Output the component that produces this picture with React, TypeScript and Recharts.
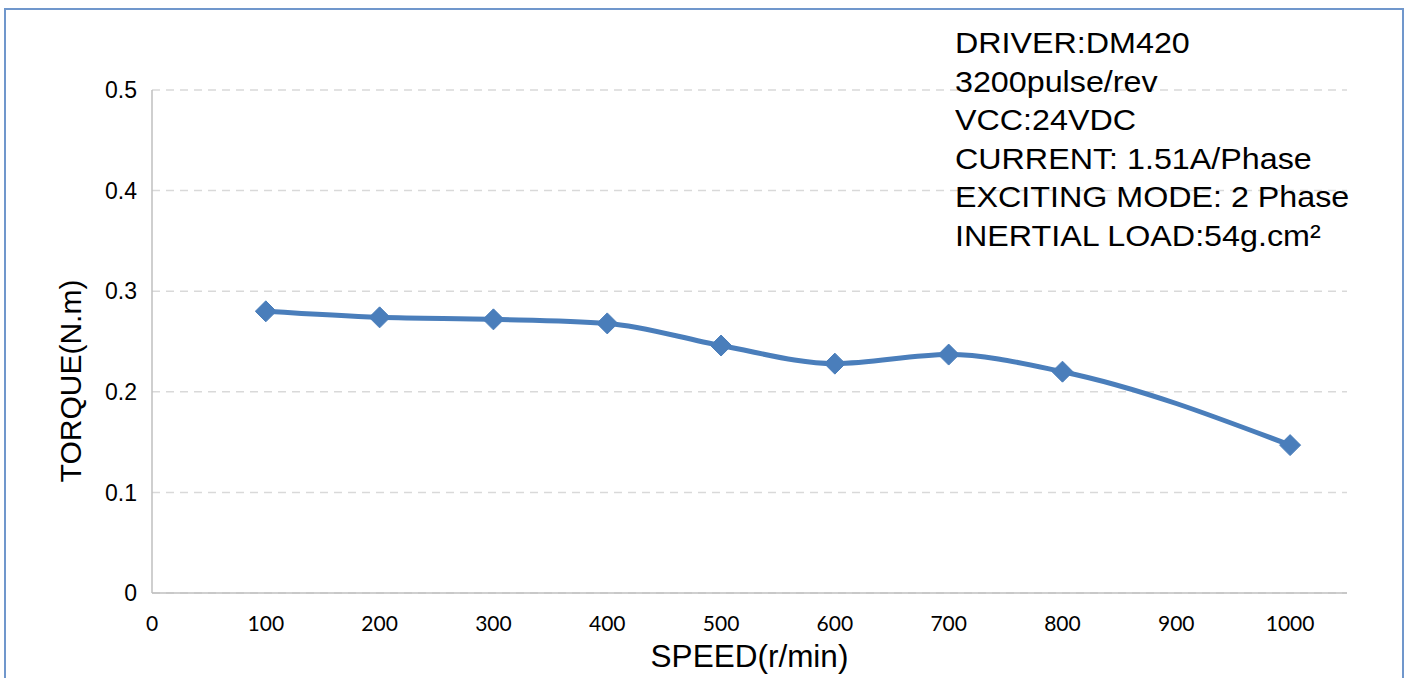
import { CartesianGrid, Line, LineChart, XAxis, YAxis } from 'recharts'

const speeds = [100, 200, 300, 400, 500, 600, 700, 800, 1000]
const torque = [0.28, 0.274, 0.272, 0.268, 0.246, 0.228, 0.237, 0.22, 0.147]
const xTicks = [0, 100, 200, 300, 400, 500, 600, 700, 800, 900, 1000]
const yTicks = [0, 0.1, 0.2, 0.3, 0.4, 0.5]
const notes = [
  'DRIVER:DM420',
  '3200pulse/rev',
  'VCC:24VDC',
  'CURRENT: 1.51A/Phase',
  'EXCITING MODE: 2 Phase',
  'INERTIAL LOAD:54g.cm\u00b2',
]

const data = speeds.map((s, i) => ({ speed: s, torque: torque[i] }))

const BLUE = '#4a7ebb'
const ARIAL = '"Liberation Sans", Arial, sans-serif'

function Diamond(props: any) {
  const { cx, cy } = props
  if (cx == null || cy == null) return null
  const r = 10.5
  return (
    <path
      d={`M${cx},${cy - r}L${cx + r},${cy}L${cx},${cy + r}L${cx - r},${cy}Z`}
      fill={BLUE}
      stroke={BLUE}
    />
  )
}

function TorqueLabel() {
  return (
    <text
      x={81}
      y={381}
      transform="rotate(-90 81 381)"
      textAnchor="middle"
      fontFamily={ARIAL}
      fontSize={30}
      fill="#000"
    >
      TORQUE(N.m)
    </text>
  )
}

export default function App() {
  return (
    <div
      style={{
        position: 'absolute',
        left: 0,
        top: 0,
        width: 1407,
        height: 678,
        background: '#fff',
        overflow: 'hidden',
      }}
    >
      <div
        style={{
          position: 'absolute',
          left: 4,
          top: 8,
          width: 1396,
          height: 700,
          border: '2px solid #7097cc',
        }}
      />
      <LineChart
        width={1407}
        height={678}
        data={data}
        margin={{ top: 90, right: 60, left: 0, bottom: 0 }}
        style={{ position: 'absolute', left: 0, top: 0 }}
      >
        <CartesianGrid vertical={false} stroke="#d9d9d9" strokeDasharray="8 6" strokeWidth={1.5} />
        <XAxis
          dataKey="speed"
          type="number"
          domain={[0, 1050]}
          ticks={xTicks}
          height={85}
          tickSize={0}
          tickMargin={23}
          axisLine={{ stroke: '#bfbfbf', strokeWidth: 1.5 }}
          tick={{ fill: '#000', fontSize: 21, fontFamily: 'Lato, "Open Sans", sans-serif' }}
          label={{
            value: 'SPEED(r/min)',
            position: 'insideBottom',
            offset: 11,
            fill: '#000',
            fontSize: 31.5,
            fontFamily: ARIAL,
          }}
        />
        <YAxis
          type="number"
          domain={[0, 0.5]}
          ticks={yTicks}
          width={152}
          tickSize={0}
          tickMargin={15}
          axisLine={{ stroke: '#bfbfbf', strokeWidth: 1.5 }}
          tickFormatter={(v: number) => (v === 0 ? '0' : v.toFixed(1))}
          tick={{ fill: '#000', fontSize: 23, fontFamily: ARIAL }}
          label={<TorqueLabel />}
        />
        <Line
          type="monotone"
          dataKey="torque"
          stroke={BLUE}
          strokeWidth={5}
          dot={<Diamond />}
          activeDot={false}
          isAnimationActive={false}
        />
      </LineChart>
      <div
        style={{
          position: 'absolute',
          left: 955,
          top: 24,
          fontFamily: ARIAL,
          fontSize: 30,
          lineHeight: '38.6px',
          color: '#000',
          whiteSpace: 'nowrap',
          transform: 'scaleX(1.075)',
          transformOrigin: 'left top',
        }}
      >
        {notes.map((n) => (
          <div key={n}>{n}</div>
        ))}
      </div>
    </div>
  )
}
